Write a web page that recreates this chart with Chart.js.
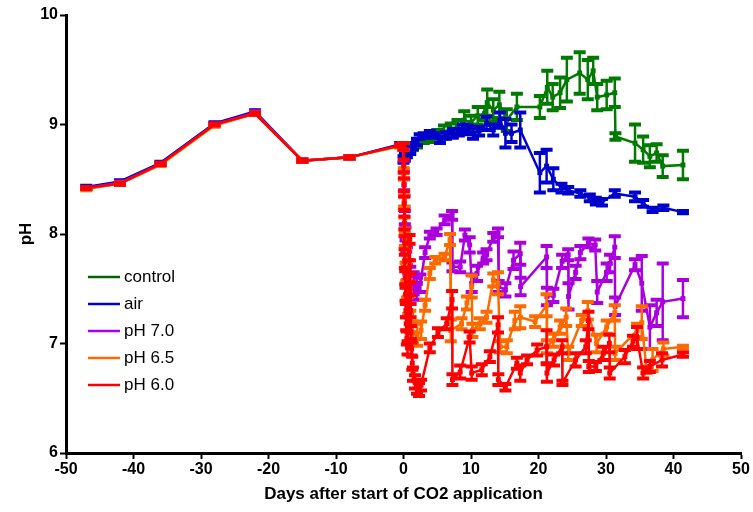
<!DOCTYPE html>
<html><head><meta charset="utf-8">
<script src="https://cdn.jsdelivr.net/npm/chart.js@4"></script>
<style>html,body{margin:0;padding:0;background:#fff}#wrap{width:753px;height:512px;position:relative}</style>
</head><body><div id="wrap"><canvas id="c" width="753" height="512"></canvas></div>
<script>
// ---- data (days after start of CO2 application, pH, error) ----
const seriesNames = ["control", "air", "pH 7.0", "pH 6.5", "pH 6.0"];
const xTicks = [-50, -40, -30, -20, -10, 0, 10, 20, 30, 40, 50];
const yTicks = [6, 7, 8, 9, 10];

const controlDays = [-47,-42,-36,-28,-22,-15,-8,-0.5, 0,1,2,3,4,5,6,7,8,9,10,11,12,12.4,13.3,14.2,15.3,16.8,20.2,21.3,22.1,23.2,24.2,26.1,27.3,28.1,28.7,30.1,31.3,31.4,34.3,35.5,36.5,37.5,38.4,41.4];
const controlPH   = [8.42,8.46,8.64,9.00,9.10,8.67,8.70,8.81, 8.80,8.78,8.82,8.86,8.88,8.90,8.93,8.96,8.98,9.04,9.02,9.08,9.10,9.20,9.13,9.18,9.04,9.16,9.16,9.34,9.25,9.29,9.41,9.47,9.41,9.49,9.25,9.27,9.29,8.89,8.83,8.77,8.71,8.74,8.62,8.63];
const controlErr  = [0.01,0.01,0.01,0.01,0.01,0.01,0.01,0.01, 0.02,0.02,0.03,0.03,0.04,0.05,0.06,0.05,0.06,0.08,0.06,0.08,0.06,0.12,0.10,0.12,0.10,0.12,0.10,0.15,0.12,0.14,0.20,0.19,0.18,0.12,0.12,0.13,0.13,0.03,0.17,0.12,0.10,0.08,0.10,0.13];

const airDays = [-47,-42,-36,-28,-22,-15,-8,-0.5, 0,0.2,0.5,1,1.4,2,2.4,3,3.9,4.5,5.4,6.3,7.3,8.2,8.8,9.5,10.3,11.2,12.3,13.3,14.3,15.1,16,17.3,20.2,21.2,22.2,23.4,24.4,26.2,27.6,28.5,29.4,31.3,34.3,35.5,36.9,38.5,41.4];
const airPH   = [8.43,8.48,8.65,9.01,9.12,8.67,8.70,8.82, 8.68,8.70,8.73,8.76,8.80,8.84,8.89,8.90,8.92,8.90,8.86,8.90,8.92,8.93,8.97,8.95,8.92,8.94,9.01,8.95,9.04,8.92,8.92,8.95,8.56,8.62,8.50,8.42,8.40,8.37,8.33,8.30,8.29,8.37,8.34,8.28,8.22,8.24,8.20];
const airErr  = [0.01,0.01,0.01,0.01,0.01,0.01,0.01,0.01, 0.03,0.03,0.03,0.03,0.03,0.03,0.02,0.02,0.02,0.02,0.03,0.03,0.04,0.03,0.03,0.04,0.05,0.04,0.06,0.05,0.07,0.13,0.08,0.16,0.18,0.15,0.10,0.04,0.03,0.03,0.03,0.03,0.03,0.03,0.04,0.03,0.02,0.02,0.01];

const ph70Days = [-47,-42,-36,-28,-22,-15,-8,-0.5, 0,0.05,0.1,0.15,0.2,0.3,0.4,0.5,0.7,1.0,1.5,2.0,2.5,3.2,3.9,4.9,6.1,7.2,7.25,8.4,9.1,9.8,10.1,10.9,11.8,12.3,13.3,14.0,14.1,15.1,16.3,17.3,17.35,21.2,21.25,22.2,23.5,24.4,24.45,25.5,26.2,27.4,28.4,28.7,30.1,30.6,31.3,31.35,34.3,35.3,36.5,37.5,38.4,41.4];
const ph70PH   = [8.42,8.47,8.64,9.00,9.11,8.67,8.70,8.81, 8.80,8.62,8.45,8.30,8.15,8.00,7.90,7.80,7.70,7.62,7.55,7.50,7.55,7.83,7.99,8.02,8.13,8.17,7.70,7.70,7.99,7.90,7.55,7.64,7.78,7.81,7.97,8.01,7.52,7.49,7.76,7.82,7.52,7.79,7.43,7.44,7.75,7.81,7.43,7.65,7.83,7.92,7.90,7.47,7.65,7.73,7.88,7.34,7.72,7.55,7.15,7.28,7.38,7.41];
const ph70Err  = [0.01,0.01,0.01,0.01,0.01,0.01,0.01,0.01, 0.03,0.05,0.05,0.05,0.06,0.06,0.06,0.08,0.06,0.08,0.10,0.10,0.08,0.05,0.03,0.03,0.04,0.04,0.04,0.05,0.05,0.07,0.08,0.07,0.05,0.05,0.04,0.04,0.05,0.06,0.08,0.10,0.08,0.10,0.08,0.06,0.06,0.05,0.12,0.06,0.06,0.04,0.05,0.10,0.08,0.08,0.10,0.08,0.05,0.25,0.20,0.12,0.35,0.17];

const ph65Days = [-47,-42,-36,-28,-22,-15,-8,-0.5, 0,0.05,0.1,0.15,0.2,0.3,0.4,0.5,0.7,1.0,1.4,2.0,2.6,3.2,3.9,4.7,6.1,6.9,7.0,8.6,9.4,10.1,10.2,11.3,12.3,13.3,14.0,14.3,15.3,16.5,17.3,19.5,21.2,21.25,22.2,23.2,24.1,24.4,26.4,27.3,28.6,30.1,31.3,31.35,34.6,35.3,36.0,36.9,38.5,41.4];
const ph65PH   = [8.41,8.46,8.63,8.99,9.10,8.67,8.70,8.80, 8.80,8.55,8.30,8.10,7.95,7.80,7.65,7.50,7.35,7.20,7.10,7.08,7.12,7.35,7.64,7.76,7.79,7.95,7.12,7.18,7.37,7.52,7.12,7.18,7.24,7.58,7.55,6.97,6.97,7.21,7.24,7.20,7.35,6.97,7.03,7.15,7.24,6.91,7.21,7.30,7.00,7.15,7.28,6.91,7.12,7.19,6.76,6.85,6.95,6.97];
const ph65Err  = [0.01,0.01,0.01,0.01,0.01,0.01,0.01,0.01, 0.03,0.05,0.05,0.05,0.06,0.06,0.08,0.08,0.08,0.10,0.10,0.10,0.08,0.05,0.05,0.03,0.03,0.05,0.10,0.05,0.06,0.10,0.06,0.05,0.05,0.06,0.10,0.05,0.06,0.08,0.10,0.05,0.10,0.06,0.06,0.06,0.08,0.06,0.05,0.08,0.08,0.06,0.07,0.06,0.06,0.15,0.03,0.10,0.06,0.01];

const ph60Days = [-47,-42,-36,-28,-22,-15,-8,-0.5, 0,0.03,0.06,0.1,0.13,0.16,0.2,0.25,0.3,0.35,0.4,0.5,0.6,0.9,0.95,1.0,1.05,1.1,1.2,1.3,1.4,1.7,2.0,2.3,2.6,3.9,5.1,6.4,7.2,7.25,8.4,9.8,10.1,11.6,12.8,14.0,14.05,15.1,16.8,17.3,18.3,19.8,21.2,21.25,22.3,23.5,23.55,25.5,27.0,27.4,27.45,28.5,29.6,30.5,30.55,32.8,34.0,34.6,35.5,36.5,38.3,41.4];
const ph60PH   = [8.42,8.46,8.64,9.00,9.10,8.67,8.70,8.81, 8.80,8.62,8.45,8.28,8.10,7.92,7.75,7.60,7.45,7.30,7.18,7.05,6.96,7.95,7.70,7.50,7.30,7.10,6.95,6.82,6.72,6.65,6.60,6.58,6.62,6.96,7.10,7.18,7.40,6.67,6.74,7.06,6.73,6.76,6.88,7.17,6.67,6.60,6.82,6.73,6.85,6.94,6.97,6.73,6.85,6.97,6.64,6.85,6.97,7.21,6.79,6.79,6.91,7.00,6.73,6.88,7.02,7.05,6.73,6.79,6.85,6.90];
const ph60Err  = [0.01,0.01,0.01,0.01,0.01,0.01,0.01,0.01, 0.03,0.06,0.06,0.06,0.06,0.06,0.06,0.06,0.06,0.06,0.06,0.06,0.06,0.04,0.06,0.06,0.06,0.06,0.06,0.06,0.06,0.06,0.06,0.06,0.05,0.04,0.04,0.05,0.08,0.05,0.06,0.05,0.06,0.05,0.05,0.07,0.05,0.03,0.05,0.07,0.04,0.05,0.15,0.08,0.05,0.06,0.02,0.06,0.06,0.08,0.05,0.04,0.06,0.08,0.05,0.06,0.05,0.10,0.05,0.05,0.06,0.02];

const seriesColors = ["#007a00", "#0000cc", "#aa00dd", "#ff6a00", "#ff0000"];
const legendLineColors = ["#006400", "#0000cc", "#aa00ee", "#ff6a00", "#ff0000"];

const allDays = [controlDays, airDays, ph70Days, ph65Days, ph60Days];
const allPH = [controlPH, airPH, ph70PH, ph65PH, ph60PH];
const allErr = [controlErr, airErr, ph70Err, ph65Err, ph60Err];

const datasets = seriesNames.map((name, k) => ({
  label: name,
  data: allDays[k].map((d, i) => ({x: d, y: allPH[k][i]})),
  errs: allErr[k],
  borderColor: seriesColors[k],
  backgroundColor: seriesColors[k],
  borderWidth: 2.5,
  pointStyle: 'rect',
  pointRadius: 3.5,
  pointBorderWidth: 0,
  showLine: true,
  tension: 0,
  order: 4 - k
}));

const errorBars = {
  id: 'errorBars',
  afterDatasetDraw(chart, args) {
    const ds = chart.data.datasets[args.index];
    const ys = chart.scales.y;
    const ctx = chart.ctx;
    ctx.save();
    ctx.strokeStyle = ds.borderColor;
    args.meta.data.forEach((pt, i) => {
      const e = ds.errs[i];
      const v = ds.data[i].y;
      const x = pt.x;
      const y1 = ys.getPixelForValue(v + e), y2 = ys.getPixelForValue(v - e);
      ctx.lineWidth = 2.5;
      ctx.beginPath(); ctx.moveTo(x, y1); ctx.lineTo(x, y2); ctx.stroke();
      ctx.lineWidth = 4;
      ctx.beginPath();
      ctx.moveTo(x - 6, y1); ctx.lineTo(x + 6, y1);
      ctx.moveTo(x - 6, y2); ctx.lineTo(x + 6, y2);
      ctx.stroke();
    });
    ctx.restore();
  }
};

const legendBox = {
  id: 'legendBox',
  afterDraw(chart) {
    const ctx = chart.ctx;
    ctx.save();
    ctx.font = "17px 'Liberation Sans', Arial, sans-serif";
    ctx.textBaseline = 'middle';
    ctx.fillStyle = '#000';
    seriesNames.forEach((n, k) => {
      const y = 277 + k * 27;
      ctx.strokeStyle = legendLineColors[k];
      ctx.lineWidth = 2.5;
      ctx.beginPath(); ctx.moveTo(88, y); ctx.lineTo(120, y); ctx.stroke();
      ctx.fillText(n, 124, y);
    });
    ctx.restore();
  }
};

const tickFont = {family: "'Liberation Sans', Arial, sans-serif", size: 16, weight: 'bold'};
const titleFont = {family: "'Liberation Sans', Arial, sans-serif", size: 17, weight: 'bold'};

new Chart(document.getElementById('c'), {
  type: 'line',
  data: {datasets},
  options: {
    responsive: false,
    animation: false,
    devicePixelRatio: 1,
    layout: {padding: {top: 15, right: 12, left: 0, bottom: 0}},
    plugins: {legend: {display: false}, tooltip: {enabled: false}},
    scales: {
      x: {
        type: 'linear', min: -50, max: 50,
        afterBuildTicks: ax => { ax.ticks = xTicks.map(v => ({value: v})); },
        afterFit: ax => { ax.height = 59; },
        border: {color: '#000', width: 3},
        grid: {drawOnChartArea: false, drawTicks: true, tickLength: 6, tickWidth: 2, tickColor: '#000', color: '#000'},
        ticks: {color: '#000', font: tickFont, padding: 1, maxRotation: 0},
        title: {display: true, text: 'Days after start of CO2 application', color: '#000', font: titleFont, padding: {top: 0, bottom: 7}}
      },
      y: {
        type: 'linear', min: 6, max: 10,
        afterBuildTicks: ax => { ax.ticks = yTicks.map(v => ({value: v})); },
        afterFit: ax => { ax.width = 66; },
        border: {color: '#000', width: 3},
        grid: {drawOnChartArea: false, drawTicks: true, tickLength: 6, tickWidth: 2, tickColor: '#000', color: '#000'},
        ticks: {color: '#000', font: tickFont, padding: 2},
        title: {display: true, text: 'pH', color: '#000', font: titleFont, padding: {top: 16, bottom: 0}}
      }
    }
  },
  plugins: [errorBars, legendBox]
});
</script>
</body></html>
